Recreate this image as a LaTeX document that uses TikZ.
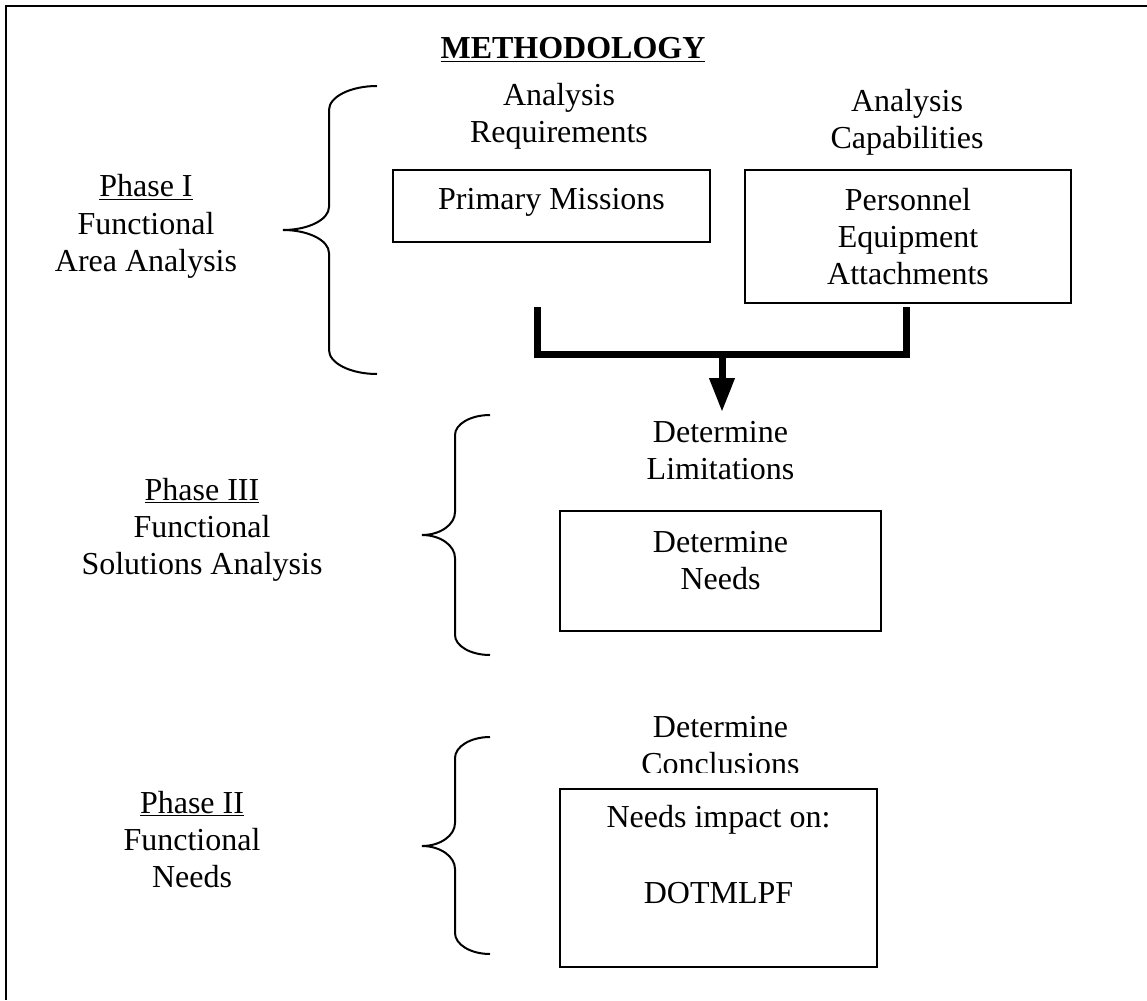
\documentclass[tikz,border=0pt]{standalone}
\usepackage{fontspec}
\setmainfont{Liberation Serif}
\usetikzlibrary{arrows.meta}
\newcommand\drawbrace[8]{% xe, xv, xt, ytop, ymid, ybot, end dy, mid dy
  \draw[bracestyle] (#1,#4) .. controls ({#1-0.55*(#1-#2)},#4) and (#2,{#4+0.45*#7}) .. (#2,#4+#7)
    -- (#2,#5-#8) .. controls (#2,{#5-0.45*#8}) and ({#3+0.55*(#2-#3)},#5) .. (#3,#5)
    .. controls ({#3+0.55*(#2-#3)},#5) and (#2,{#5+0.45*#8}) .. (#2,#5+#8)
    -- (#2,#6-#7) .. controls (#2,{#6-0.45*#7}) and ({#1-0.55*(#1-#2)},#6) .. (#1,#6);}
\begin{document}
\begin{tikzpicture}[x=1pt,y=-1pt,
  txt/.style={font=\fontsize{32}{37}\selectfont, align=center, inner sep=0pt, anchor=base},
  boxed/.style={draw, line width=2pt, font=\fontsize{32}{37}\selectfont, align=center, inner sep=0pt, anchor=base},
  bracestyle/.style={line width=2pt},
  thickbar/.style={line width=7pt, line join=miter},
]
\useasboundingbox (0,0) rectangle (1147,1000);
\fill[white] (0,0) rectangle (1147,1000);
% outer frame (right and bottom sides lie beyond the picture)
\draw[line width=2pt] (1147,6) -- (6,6) -- (6,1000);

% title
\node[txt] (title) at (573,59) {\textbf{\underline{METHODOLOGY}}};

% Phase I  (multi-line nodes: base anchor = last line's baseline)
\node[txt] (ph1) at (146,271) {\underline{Phase I}\\Functional\\Area Analysis};
\drawbrace{377}{329}{283}{86}{230}{374}{24}{23}
\node[txt] (req) at (559,143) {Analysis\\Requirements};
\node[txt] (cap) at (907,149) {Analysis\\Capabilities};
\node[boxed, minimum width=317pt, text height=40pt, text depth=32pt] (pm) at (551.5,210) {Primary Missions};
\node[boxed, minimum width=326pt, text height=114pt, text depth=19pt] (pea) at (908,284) {Personnel\\Equipment\\Attachments};

% bracket and arrow
\coordinate (jl) at (537,307);
\coordinate (jr) at (906,307);
\coordinate (jm) at (722,354);
\coordinate (ta) at (722,412);
\draw[thickbar] (jl) -- (jl |- jm) -- (jr |- jm) -- (jr);
\draw[line width=7pt, -{Triangle[length=34pt,width=24pt]}] (jm) -- (ta);

% Phase III
\node[txt] (ph3) at (202,574) {\underline{Phase III}\\Functional\\Solutions Analysis};
\drawbrace{490}{455}{422}{415}{535}{655}{20}{23}
\node[txt] (lim) at (720.5,479) {Determine\\Limitations};
\node[boxed, minimum width=321pt, text height=78pt, text depth=42pt] (dn) at (720.5,589) {Determine\\Needs};

% Phase II
\node[txt] (ph2) at (192,887) {\underline{Phase II}\\Functional\\Needs};
\drawbrace{490}{455}{422}{737}{846}{954}{21}{23}
\begin{scope}
  \clip (500,690) rectangle (950,772);
  \node[txt] (con) at (720.5,774) {Determine\\Conclusions};
\end{scope}
\node[boxed, minimum width=317pt, text height=114pt, text depth=64pt] (ni) at (718.5,903) {Needs impact on:\\[39pt]DOTMLPF};
\end{tikzpicture}
\end{document}
